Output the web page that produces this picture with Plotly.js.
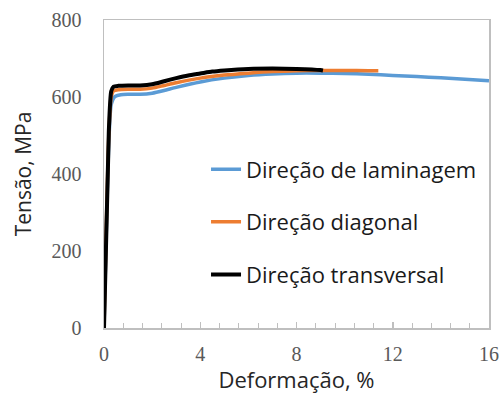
<!DOCTYPE html>
<html>
<head>
<meta charset="utf-8">
<script src="https://cdn.plot.ly/plotly-3.0.1.min.js"></script>
<style>html,body{margin:0;padding:0;background:#fff;}#chart{width:504px;height:394px;}</style>
</head>
<body>
<div id="chart"></div>
<script>
const seriesNames = ["Direção de laminagem", "Direção diagonal", "Direção transversal"];
const seriesColors = ["#5b9bd5", "#ed7d31", "#000000"];

const laminagemX = [0, 0.2, 0.3, 0.45, 0.7, 1.0, 1.5, 2.0, 2.5, 3, 4, 5, 6, 7, 8, 9, 10, 11, 12, 13, 14, 15, 16];
const laminagemY = [0, 480, 580, 601, 606, 607, 607, 610, 617, 625, 639, 649, 656, 660, 662, 662, 661, 659, 656, 653, 650, 646, 642];

const diagonalX = [0, 0.2, 0.3, 0.4, 0.6, 1.0, 1.5, 2.0, 2.5, 3, 4, 5, 6, 7, 8, 9, 10, 11, 11.4];
const diagonalY = [0, 500, 600, 616, 619, 620, 620, 623, 630, 637, 649, 657, 662, 666, 668, 669, 669, 668, 668];

const transversalX = [0, 0.2, 0.3, 0.4, 0.6, 1.0, 1.5, 2.0, 2.5, 3, 3.5, 4, 4.5, 5, 6, 7, 8, 9, 9.1];
const transversalY = [0, 510, 615, 627, 629, 630, 630, 633, 641, 649, 656, 661, 666, 669, 673, 674, 673, 670, 669];

const xTicks = [0, 4, 8, 12, 16];
const yTicks = [0, 200, 400, 600, 800];

const xs = [laminagemX, diagonalX, transversalX];
const ys = [laminagemY, diagonalY, transversalY];
const widths = [3.5, 3.5, 4];

const traces = seriesNames.map((n, i) => ({
  type: 'scatter', mode: 'lines', name: n,
  x: xs[i], y: ys[i], legendgroup: 'g' + i,
  line: {color: seriesColors[i], width: widths[i], shape: 'spline', smoothing: 0.6}
}));

const layout = {
  width: 504, height: 394,
  margin: {l: 104, r: 15, t: 20, b: 66},
  paper_bgcolor: '#fff', plot_bgcolor: '#fff',
  showlegend: true,
  legend: {
    x: 0.265, y: 0.583, xanchor: 'left', yanchor: 'top',
    font: {family: 'Open Sans, sans-serif', size: 22, color: '#1a1a1a'},
    tracegroupgap: 21, bgcolor: 'rgba(0,0,0,0)'
  },
  xaxis: {
    range: [0, 16], tickvals: xTicks, ticktext: xTicks.map(String),
    showgrid: false, zeroline: false,
    showline: true, mirror: true, linecolor: '#bfbfbf', linewidth: 1.5,
    ticks: 'inside', ticklen: 6, tickcolor: '#bfbfbf', tickwidth: 1.5,
    minor: {dtick: 0.8, ticks: 'inside', ticklen: 5, tickcolor: '#bfbfbf', tickwidth: 1},
    tickfont: {family: 'Liberation Serif, serif', size: 20, color: '#595959'},
    ticklabelstandoff: 7,
    title: {text: 'Deformação, %', font: {family: 'Open Sans, sans-serif', size: 22, color: '#262626'}, standoff: 4}
  },
  yaxis: {
    range: [0, 800], tickvals: yTicks, ticktext: yTicks.map(String),
    showgrid: false, zeroline: false,
    showline: true, mirror: true, linecolor: '#bfbfbf', linewidth: 1.5,
    ticks: '',
    tickfont: {family: 'Liberation Serif, serif', size: 20, color: '#595959'},
    ticklabelstandoff: 17,
    title: {text: 'Tensão, MPa', font: {family: 'Open Sans, sans-serif', size: 21, color: '#262626'}, standoff: 14}
  }
};

Plotly.newPlot('chart', traces, layout, {displayModeBar: false, staticPlot: true});
</script>
</body>
</html>
